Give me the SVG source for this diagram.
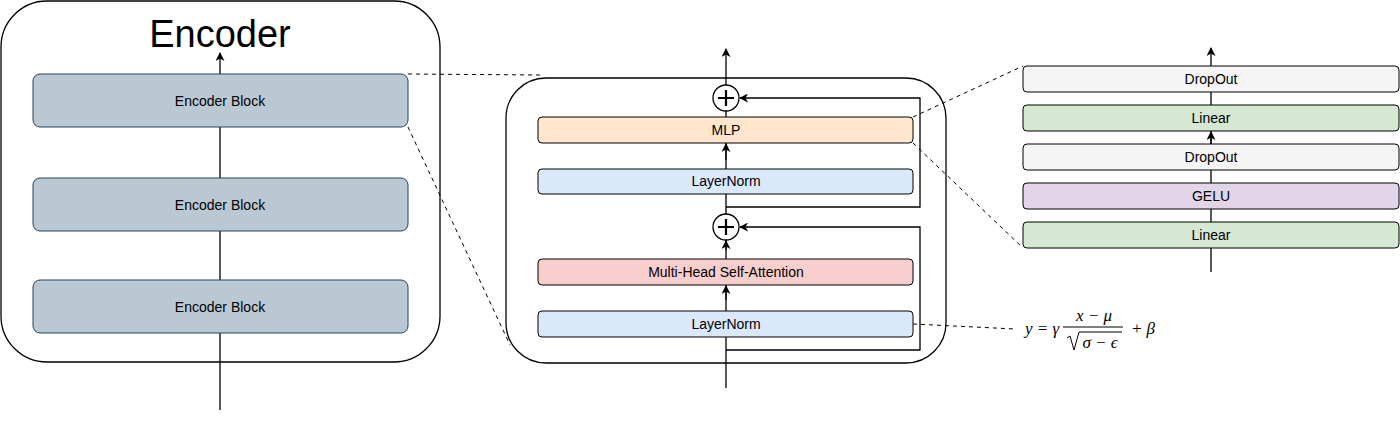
<svg xmlns="http://www.w3.org/2000/svg" width="1400" height="422" viewBox="0 0 1400 422">
<defs>
<marker id="ar" viewBox="0 0 10 10" refX="9" refY="5" markerWidth="9" markerHeight="9" markerUnits="userSpaceOnUse" orient="auto"><path d="M0,0 L10,5 L0,10 L3,5 Z" fill="#000"/></marker>
</defs>
<style>
text{font-family:"Liberation Sans",Arial,sans-serif;text-anchor:middle;dominant-baseline:central;fill:#000}
.c{fill:#fff;stroke:#000;stroke-width:1.3}
.l{fill:none;stroke:#000;stroke-width:1.3}
.d{fill:none;stroke:#000;stroke-width:1;stroke-dasharray:4 4}
.eb{fill:#bac8d3;stroke:#23445d;stroke-width:1}
.t{font-size:14px}
.m{font-family:"Liberation Serif","Times New Roman",serif;font-style:italic;font-size:17px}
</style>
<g id="connectors">
<line class="l" x1="220" y1="410" x2="220" y2="53" marker-end="url(#ar)"/>
<line class="l" x1="726" y1="388" x2="726" y2="49" marker-end="url(#ar)"/>
<line class="l" x1="1211" y1="272" x2="1211" y2="48" marker-end="url(#ar)"/>
<line class="l" x1="1211" y1="150" x2="1211" y2="132" marker-end="url(#ar)"/>
<line class="l" x1="726" y1="300" x2="726" y2="286" marker-end="url(#ar)"/>
<line class="l" x1="726" y1="250" x2="726" y2="241" marker-end="url(#ar)"/>
<line class="l" x1="726" y1="160" x2="726" y2="144" marker-end="url(#ar)"/>
<polyline class="l" points="726,350 920,350 920,227 740,227" marker-end="url(#ar)"/>
<polyline class="l" points="726,207 920,207 920,98 740,98" marker-end="url(#ar)"/>
<line class="d" x1="408" y1="74" x2="540" y2="75"/>
<line class="d" x1="408" y1="127" x2="510" y2="345"/>
<line class="d" x1="913" y1="117" x2="1023" y2="66"/>
<line class="d" x1="913" y1="143" x2="1023" y2="248"/>
<line class="d" x1="913" y1="324" x2="1015" y2="329"/>
</g>
<g id="encoder">
<rect x="1" y="1" width="439" height="361" rx="46" fill="none" stroke="#000" stroke-width="1.3"/>
<text x="220" y="34" font-size="38">Encoder</text>
</g>
<g id="eb1"><rect class="eb" x="33" y="74" width="375" height="53" rx="7"/><text class="t" x="220" y="101">Encoder Block</text></g>
<g id="eb2"><rect class="eb" x="33" y="178" width="375" height="53" rx="7"/><text class="t" x="220" y="205">Encoder Block</text></g>
<g id="eb3"><rect class="eb" x="33" y="280" width="375" height="53" rx="7"/><text class="t" x="220" y="307">Encoder Block</text></g>
<g id="block"><rect x="506" y="78" width="440" height="285" rx="40" fill="none" stroke="#000" stroke-width="1.3"/></g>
<g id="add2"><circle class="c" cx="726" cy="98" r="13"/><path d="M718,98 H734 M726,90 V106" stroke="#000" stroke-width="2.2"/></g>
<g id="add1"><circle class="c" cx="726" cy="227" r="13"/><path d="M718,227 H734 M726,219 V235" stroke="#000" stroke-width="2.2"/></g>
<g id="mlp"><rect x="538" y="117" width="375" height="26" rx="4" fill="#ffe6cc" stroke="#000"/><text class="t" x="726" y="130">MLP</text></g>
<g id="ln2"><rect x="538" y="169" width="375" height="25" rx="4" fill="#dae8fc" stroke="#000"/><text class="t" x="726" y="181">LayerNorm</text></g>
<g id="mhsa"><rect x="538" y="259" width="375" height="26" rx="4" fill="#f8cecc" stroke="#000"/><text class="t" x="726" y="272">Multi-Head Self-Attention</text></g>
<g id="ln1"><rect x="538" y="311" width="375" height="26" rx="4" fill="#dae8fc" stroke="#000"/><text class="t" x="726" y="324">LayerNorm</text></g>
<g id="do2"><rect x="1023" y="66" width="376" height="26" rx="4" fill="#f5f5f5" stroke="#000"/><text class="t" x="1211" y="79" fill="#333">DropOut</text></g>
<g id="lin2"><rect x="1023" y="105" width="376" height="26" rx="4" fill="#d5e8d4" stroke="#000"/><text class="t" x="1211" y="118">Linear</text></g>
<g id="do1"><rect x="1023" y="144" width="376" height="26" rx="4" fill="#f5f5f5" stroke="#000"/><text class="t" x="1211" y="157" fill="#333">DropOut</text></g>
<g id="gelu"><rect x="1023" y="183" width="376" height="26" rx="4" fill="#e1d5e7" stroke="#000"/><text class="t" x="1211" y="196">GELU</text></g>
<g id="lin1"><rect x="1023" y="222" width="376" height="26" rx="4" fill="#d5e8d4" stroke="#000"/><text class="t" x="1211" y="235">Linear</text></g>
<g id="formula">
<text class="m" x="1042" y="328">y = γ</text>
<text class="m" x="1094" y="315">x − μ</text>
<line x1="1063" y1="327" x2="1123" y2="327" stroke="#000" stroke-width="1"/>
<path d="M1067,338 L1070,336 L1074,350 L1079,332 H1122" fill="none" stroke="#000" stroke-width="1"/>
<text class="m" x="1100" y="342">σ − ϵ</text>
<text class="m" x="1143" y="328">+ β</text>
</g>
</svg>
